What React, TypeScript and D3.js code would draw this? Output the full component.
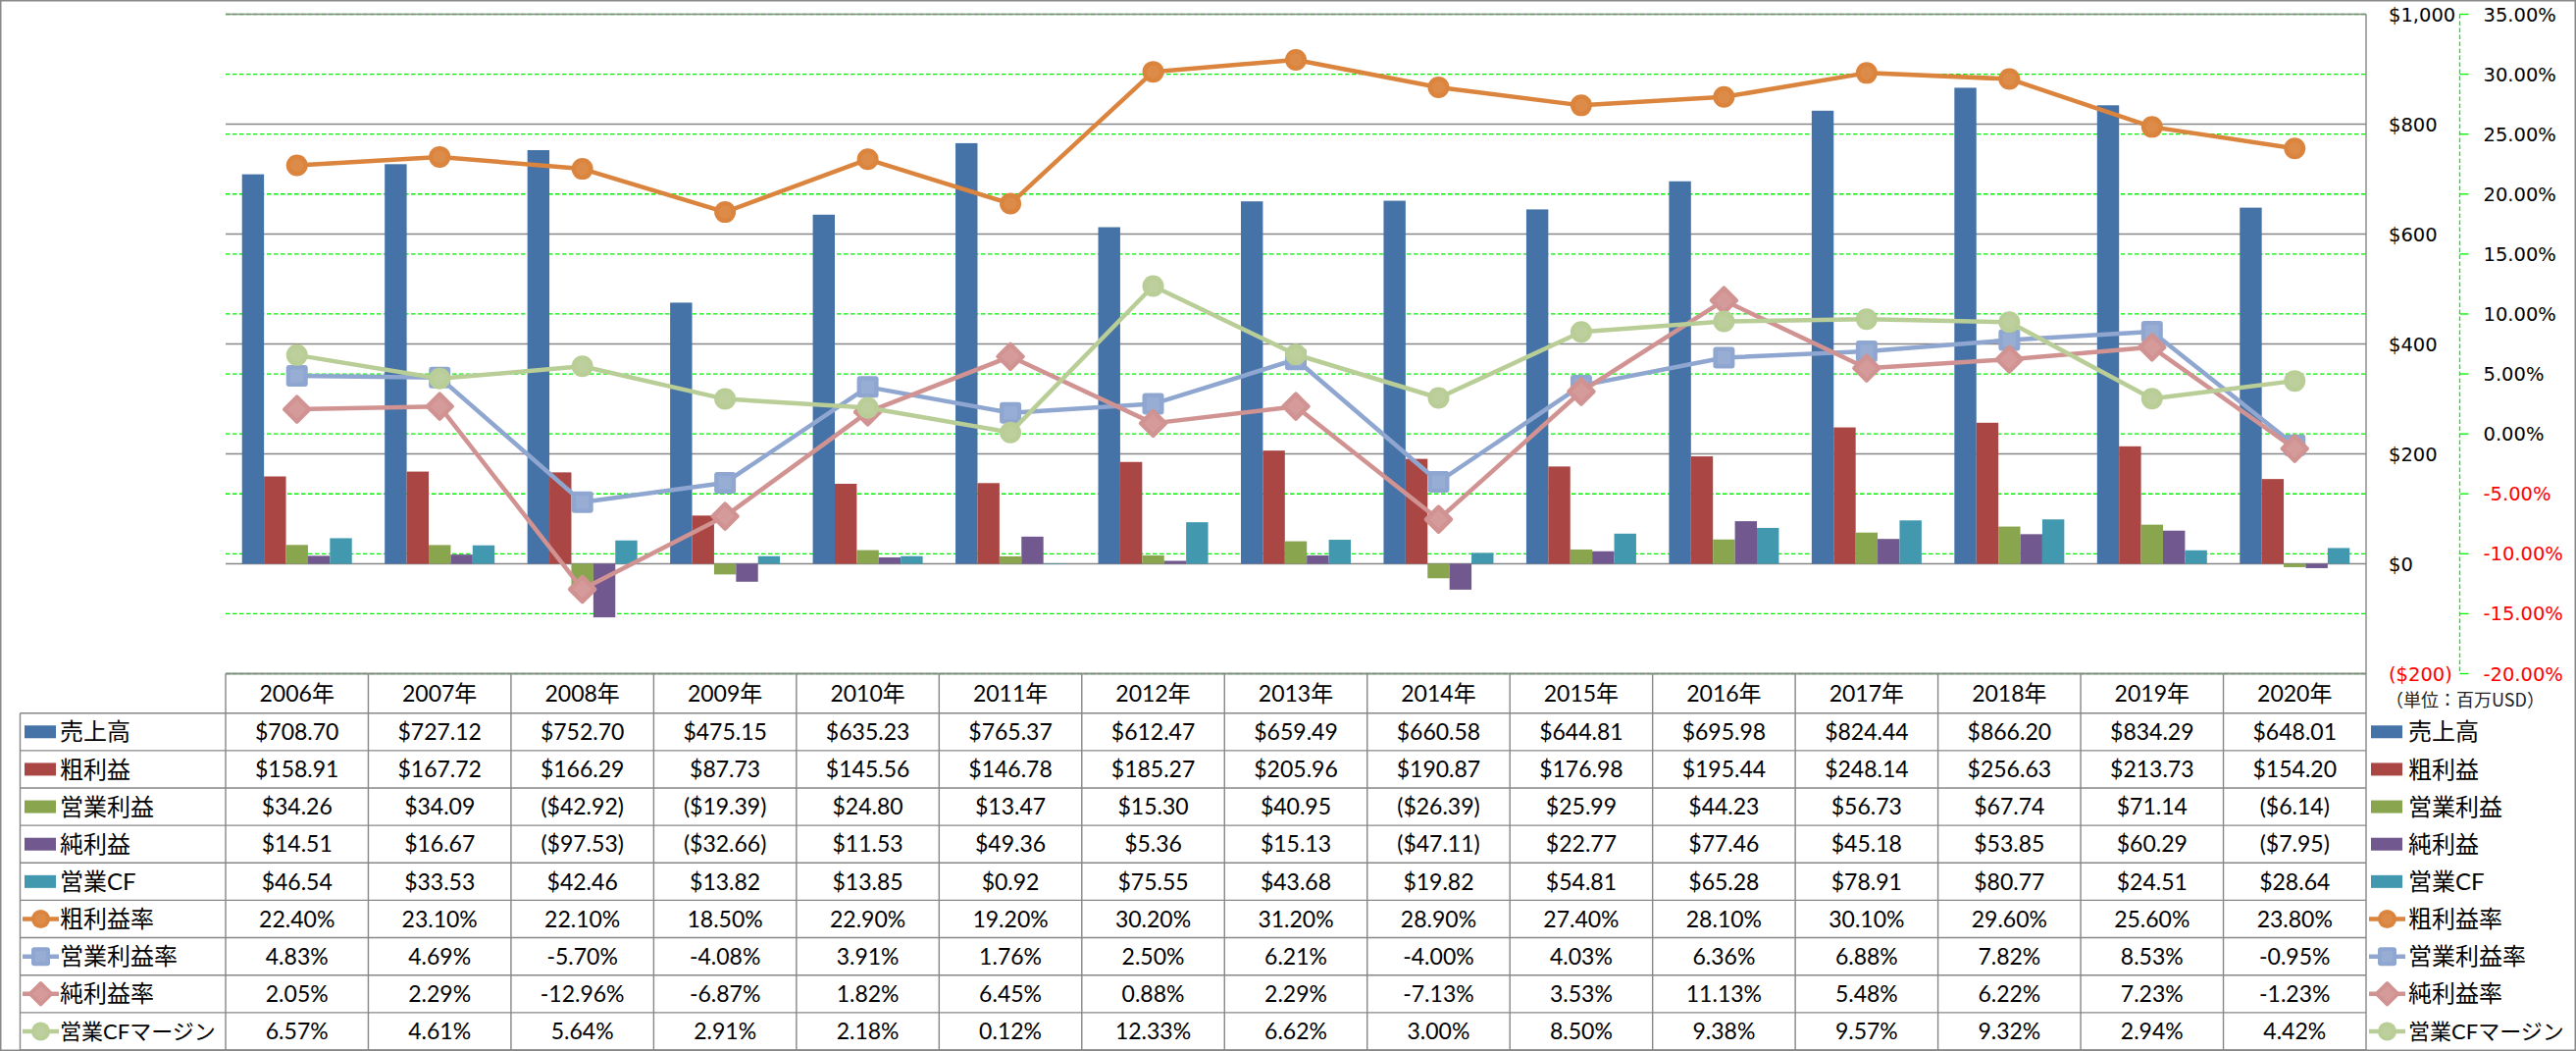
import * as d3 from "d3";

// 年度
const years = [
  "2006年", "2007年", "2008年", "2009年", "2010年", "2011年", "2012年", "2013年",
  "2014年", "2015年", "2016年", "2017年", "2018年", "2019年", "2020年",
];

// 棒グラフ（百万USD）
const sales = [708.7, 727.12, 752.7, 475.15, 635.23, 765.37, 612.47, 659.49, 660.58, 644.81, 695.98, 824.44, 866.2, 834.29, 648.01];
const grossProfit = [158.91, 167.72, 166.29, 87.73, 145.56, 146.78, 185.27, 205.96, 190.87, 176.98, 195.44, 248.14, 256.63, 213.73, 154.2];
const operatingIncome = [34.26, 34.09, -42.92, -19.39, 24.8, 13.47, 15.3, 40.95, -26.39, 25.99, 44.23, 56.73, 67.74, 71.14, -6.14];
const netIncome = [14.51, 16.67, -97.53, -32.66, 11.53, 49.36, 5.36, 15.13, -47.11, 22.77, 77.46, 45.18, 53.85, 60.29, -7.95];
const operatingCF = [46.54, 33.53, 42.46, 13.82, 13.85, 0.92, 75.55, 43.68, 19.82, 54.81, 65.28, 78.91, 80.77, 24.51, 28.64];

// 折れ線（%）
const grossMargin = [22.4, 23.1, 22.1, 18.5, 22.9, 19.2, 30.2, 31.2, 28.9, 27.4, 28.1, 30.1, 29.6, 25.6, 23.8];
const operatingMargin = [4.83, 4.69, -5.7, -4.08, 3.91, 1.76, 2.5, 6.21, -4.0, 4.03, 6.36, 6.88, 7.82, 8.53, -0.95];
const netMargin = [2.05, 2.29, -12.96, -6.87, 1.82, 6.45, 0.88, 2.29, -7.13, 3.53, 11.13, 5.48, 6.22, 7.23, -1.23];
const cfMargin = [6.57, 4.61, 5.64, 2.91, 2.18, 0.12, 12.33, 6.62, 3.0, 8.5, 9.38, 9.57, 9.32, 2.94, 4.42];

const moneyTicks = [-200, 0, 200, 400, 600, 800, 1000];
const percentTicks = [-20, -15, -10, -5, 0, 5, 10, 15, 20, 25, 30, 35];

type Shape = "circle" | "square" | "diamond";

const barSeries = [
  { name: "売上高", values: sales, color: "#4572A7" },
  { name: "粗利益", values: grossProfit, color: "#AA4643" },
  { name: "営業利益", values: operatingIncome, color: "#89A54E" },
  { name: "純利益", values: netIncome, color: "#71588F" },
  { name: "営業CF", values: operatingCF, color: "#4198AF" },
];
const lineSeries: { name: string; values: number[]; color: string; shape: Shape }[] = [
  { name: "粗利益率", values: grossMargin, color: "#DB843D", shape: "circle" },
  { name: "営業利益率", values: operatingMargin, color: "#8FA7D0", shape: "square" },
  { name: "純利益率", values: netMargin, color: "#D19392", shape: "diamond" },
  { name: "営業CFマージン", values: cfMargin, color: "#B9CD96", shape: "circle" },
];

const W = 2626;
const H = 1071;
const plotLeft = 230;
const plotRight = 2412;
const plotTop = 14.5;
const plotBottom = 686.5;
const headerBottom = 726.7;
const tableBottom = 1070;
const legendLeft = 20.5;

const gridGray = "#878787";
const gridGreen = "#00F000";
const tableFont = "Lato, 'Noto Sans CJK JP', sans-serif";
const cjkFont = "'Noto Sans CJK JP', sans-serif";
const axisFont = "'DejaVu Sans', Verdana, sans-serif";

const fmtMoney = (v: number) =>
  v < 0 ? `($${Math.abs(v).toFixed(2)})` : `$${v.toFixed(2)}`;
const fmtPct = (v: number) => `${v.toFixed(2)}%`;
const fmtAxisMoney = (v: number) =>
  v < 0 ? `($${d3.format(",")(Math.abs(v))})` : `$${d3.format(",")(v)}`;

function Marker({ shape, cx, cy, color, size = 22 }: { shape: Shape; cx: number; cy: number; color: string; size?: number }) {
  const h = size / 2;
  if (shape === "circle") {
    return (
      <g>
        <circle cx={cx} cy={cy} r={h} fill={color} />
        <circle cx={cx} cy={cy} r={h * 0.6} fill="#fff" opacity={0.06} />
      </g>
    );
  }
  if (shape === "square") {
    return (
      <g>
        <rect x={cx - h} y={cy - h} width={size} height={size} rx={3} fill={color} />
        <rect x={cx - h * 0.6} y={cy - h * 0.6} width={size * 0.6} height={size * 0.6} fill="#fff" opacity={0.08} />
      </g>
    );
  }
  return (
    <g transform={`translate(${cx},${cy}) rotate(45)`}>
      <rect x={-h} y={-h} width={size} height={size} rx={2} fill={color} />
      <rect x={-h * 0.6} y={-h * 0.6} width={size * 0.6} height={size * 0.6} fill="#fff" opacity={0.08} />
    </g>
  );
}

export default function App() {
  const x = d3
    .scaleBand<string>()
    .domain(years)
    .range([plotLeft, plotRight])
    .paddingInner(0.23)
    .paddingOuter(0.115);
  const xSub = d3
    .scaleBand<string>()
    .domain(barSeries.map((s) => s.name))
    .range([0, x.bandwidth()]);
  const xCol = d3.scaleBand<string>().domain(years).range([plotLeft, plotRight]);
  const yMoney = d3.scaleLinear().domain([-200, 1000]).range([plotBottom, plotTop]);
  const yPct = d3.scaleLinear().domain([-20, 35]).range([plotBottom, plotTop]);

  const rowNames = [...barSeries.map((s) => s.name), ...lineSeries.map((s) => s.name)];
  const rowY = d3.scaleBand<string>().domain(rowNames).range([headerBottom, tableBottom]);

  const center = (i: number) => (x(years[i]) ?? 0) + x.bandwidth() / 2;
  const lineGen = d3
    .line<number>()
    .x((_, i) => center(i))
    .y((v) => yPct(v));

  const pctAxisX = 2507.5;

  // the long legend label is a bit smaller so it stays inside the frame
  const legendSize = (name: string) => (name.length > 6 ? 22 : 24);

  return (
    <div>
      <style>{`body{margin:0}`}</style>
      <svg width={W} height={H} style={{ display: "block", background: "#fff" }}>
        {/* outer frame */}
        <rect x={0.75} y={0.75} width={W - 1.5} height={H - 1.5} fill="none" stroke="#8a8a8a" strokeWidth={1.5} />

        {/* % gridlines (green dashed) */}
        {percentTicks.map((t) => (
          <line
            key={"pg" + t}
            x1={plotLeft}
            x2={plotRight}
            y1={yPct(t)}
            y2={yPct(t)}
            stroke={gridGreen}
            strokeWidth={1.3}
            strokeDasharray="4.5 2.5"
          />
        ))}
        {/* $ gridlines (gray) */}
        {moneyTicks.map((t) => (
          <line
            key={"mg" + t}
            x1={plotLeft}
            x2={plotRight}
            y1={yMoney(t)}
            y2={yMoney(t)}
            stroke={gridGray}
            strokeWidth={1.4}
          />
        ))}
        <line x1={plotRight} x2={plotRight} y1={plotTop} y2={tableBottom} stroke={gridGray} strokeWidth={1.4} />

        {/* bars */}
        {barSeries.map((s) =>
          s.values.map((v, i) => {
            const y0 = yMoney(0);
            const y1 = yMoney(v);
            return (
              <rect
                key={s.name + i}
                x={(x(years[i]) ?? 0) + (xSub(s.name) ?? 0)}
                y={Math.min(y0, y1)}
                width={xSub.bandwidth()}
                height={Math.abs(y1 - y0)}
                fill={s.color}
              />
            );
          })
        )}

        {/* lines */}
        {lineSeries.map((s) => (
          <g key={s.name}>
            <path d={lineGen(s.values) ?? undefined} fill="none" stroke={s.color} strokeWidth={4.5} strokeLinejoin="round" />
            {s.values.map((v, i) => (
              <Marker key={i} shape={s.shape} cx={center(i)} cy={yPct(v)} color={s.color} />
            ))}
          </g>
        ))}

        {/* right $ axis labels */}
        {moneyTicks.map((t) => (
          <text
            key={"ml" + t}
            x={2435}
            y={yMoney(t)}
            dy="0.36em"
            fontFamily={axisFont}
            fontSize={19.5}
            fill={t < 0 ? "#FF0000" : "#000"}
          >
            {fmtAxisMoney(t)}
          </text>
        ))}

        {/* % axis line and ticks */}
        <line x1={pctAxisX} x2={pctAxisX} y1={plotTop} y2={plotBottom} stroke={gridGreen} strokeWidth={1.3} strokeDasharray="4.5 2.5" />
        {percentTicks.map((t) => (
          <line key={"pt" + t} x1={pctAxisX} x2={pctAxisX + 9} y1={yPct(t)} y2={yPct(t)} stroke={gridGreen} strokeWidth={1.3} />
        ))}
        {percentTicks.map((t) => (
          <text
            key={"pl" + t}
            x={2531.5}
            y={yPct(t)}
            dy="0.36em"
            fontFamily={axisFont}
            fontSize={19.5}
            fill={t < 0 ? "#FF0000" : "#000"}
          >
            {`${t.toFixed(2)}%`}
          </text>
        ))}

        <text x={2432} y={714} dy="0.36em" fontFamily={cjkFont} fontSize={18} fill="#222">
          （単位：百万USD）
        </text>

        {/* data table grid */}
        <g stroke={gridGray} strokeWidth={1.4}>
          <line x1={plotLeft} x2={plotRight} y1={plotBottom} y2={plotBottom} />
          {[...rowNames.map((r) => rowY(r) ?? 0), tableBottom].map((yy, i) => (
            <line key={"rh" + i} x1={legendLeft} x2={plotRight} y1={yy} y2={yy} />
          ))}
          <line x1={legendLeft} x2={legendLeft} y1={headerBottom} y2={tableBottom} />
          {years.map((yr) => (
            <line key={"cv" + yr} x1={xCol(yr)} x2={xCol(yr)} y1={plotBottom} y2={tableBottom} />
          ))}
        </g>

        {/* header */}
        {years.map((yr) => (
          <text
            key={"hd" + yr}
            x={(xCol(yr) ?? 0) + xCol.bandwidth() / 2}
            y={(plotBottom + headerBottom) / 2}
            dy="0.36em"
            textAnchor="middle"
            fontFamily={tableFont}
            fontSize={23}
            fill="#000"
          >
            {yr}
          </text>
        ))}

        {/* table values */}
        {barSeries.map((s) =>
          s.values.map((v, i) => (
            <text
              key={"tv" + s.name + i}
              x={(xCol(years[i]) ?? 0) + xCol.bandwidth() / 2}
              y={(rowY(s.name) ?? 0) + rowY.bandwidth() / 2}
              dy="0.36em"
              textAnchor="middle"
              fontFamily={tableFont}
              fontSize={23}
              fill="#000"
            >
              {fmtMoney(v)}
            </text>
          ))
        )}
        {lineSeries.map((s) =>
          s.values.map((v, i) => (
            <text
              key={"tl" + s.name + i}
              x={(xCol(years[i]) ?? 0) + xCol.bandwidth() / 2}
              y={(rowY(s.name) ?? 0) + rowY.bandwidth() / 2}
              dy="0.36em"
              textAnchor="middle"
              fontFamily={tableFont}
              fontSize={23}
              fill="#000"
            >
              {fmtPct(v)}
            </text>
          ))
        )}

        {/* legend keys: left in table, right outside */}
        {[
          { sx: 25, tx: 61 },
          { sx: 2417, tx: 2455 },
        ].map((pos, k) => (
          <g key={"lg" + k}>
            {barSeries.map((s) => {
              const cy = (rowY(s.name) ?? 0) + rowY.bandwidth() / 2;
              return (
                <g key={s.name}>
                  <rect x={pos.sx} y={cy - 6.5} width={32} height={13} fill={s.color} />
                  <text x={pos.tx} y={cy} dy="0.36em" fontFamily={tableFont} fontSize={24} fill="#000">
                    {s.name}
                  </text>
                </g>
              );
            })}
            {lineSeries.map((s) => {
              const cy = (rowY(s.name) ?? 0) + rowY.bandwidth() / 2;
              return (
                <g key={s.name}>
                  <line x1={pos.sx - 2} x2={pos.sx + 35} y1={cy} y2={cy} stroke={s.color} strokeWidth={4.5} />
                  <Marker shape={s.shape} cx={pos.sx + 16.5} cy={cy} color={s.color} size={19} />
                  <text x={pos.tx} y={cy} dy="0.36em" fontFamily={tableFont} fontSize={legendSize(s.name)} fill="#000">
                    {s.name}
                  </text>
                </g>
              );
            })}
          </g>
        ))}
      </svg>
    </div>
  );
}
